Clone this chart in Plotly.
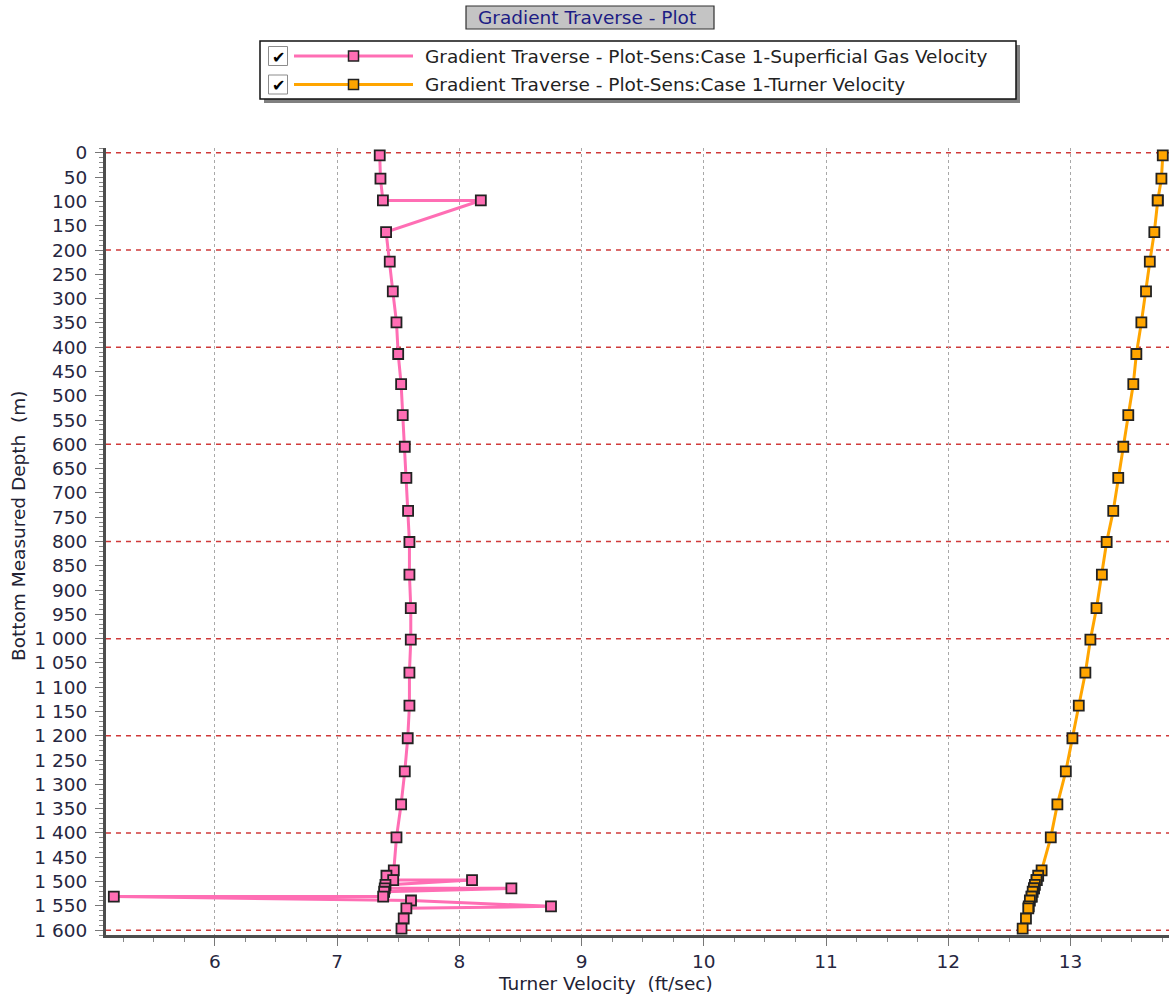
import plotly.graph_objects as go

# Measured depth of each traverse node (m)
depth_m = [5, 53, 98, 98, 163, 224, 285, 349, 414, 476,
           540, 605, 669, 737, 801, 868, 937, 1002, 1070, 1138,
           1205, 1273, 1341, 1409, 1477, 1488, 1497, 1497, 1507, 1514,
           1514, 1521, 1531, 1531, 1539, 1551, 1555, 1576, 1597]

# Superficial gas velocity (ft/sec)
gas_velocity = [7.349, 7.355, 7.375, 8.176, 7.401, 7.431, 7.456, 7.486, 7.500, 7.524,
                7.537, 7.554, 7.567, 7.581, 7.592, 7.592, 7.603, 7.603, 7.592, 7.592,
                7.578, 7.554, 7.524, 7.486, 7.464, 7.404, 7.459, 8.104, 7.396, 7.390,
                8.426, 7.385, 7.377, 5.174, 7.605, 8.750, 7.567, 7.545, 7.527]

# Turner critical velocity (ft/sec)
turner_velocity = [13.754, 13.743, 13.713, 13.713, 13.685, 13.648, 13.617, 13.579, 13.538, 13.513,
                   13.472, 13.431, 13.390, 13.349, 13.295, 13.256, 13.212, 13.162, 13.121, 13.067,
                   13.015, 12.961, 12.892, 12.838, 12.763, 12.735, 12.722, 12.722, 12.708, 12.700,
                   12.700, 12.690, 12.681, 12.681, 12.667, 12.658, 12.654, 12.635, 12.608]

series_names = [
    "Gradient Traverse - Plot-Sens:Case 1-Superficial Gas Velocity",
    "Gradient Traverse - Plot-Sens:Case 1-Turner Velocity",
]
chart_title = "Gradient Traverse - Plot"
x_title = "Turner Velocity  (ft/sec)"
y_title = "Bottom Measured Depth  (m)"

# Depth levels that carry the red dashed reference lines
depth_grid_levels = [0, 200, 400, 600, 800, 1000, 1200, 1400, 1600]

PINK = "#ff6eb4"
ORANGE = "#ffa500"
FONT = "DejaVu Sans"
FS = 18.5

W, H = 1169, 996
ML, MR, MT, MB = 106, 0, 148, 61
PW, PH = W - ML - MR, H - MT - MB


def px(x):
    """Pixel column -> paper x."""
    return (x - ML) / PW


def py(y):
    """Pixel row -> paper y."""
    return (H - MB - y) / PH


fig = go.Figure()
for vals, name, col in [(gas_velocity, series_names[0], PINK),
                        (turner_velocity, series_names[1], ORANGE)]:
    fig.add_trace(go.Scatter(
        x=vals, y=depth_m, name=name, mode="lines+markers",
        line=dict(color=col, width=3),
        marker=dict(symbol="square", size=10, color=col,
                    line=dict(color="#222222", width=1.8)),
        showlegend=False,
    ))

shapes = []
# red dashed depth reference lines
for lv in depth_grid_levels:
    shapes.append(dict(type="line", xref="paper", yref="y", x0=0, x1=1, y0=lv, y1=lv,
                       layer="below", line=dict(color="#d03a3a", width=1.5, dash="5px,5px")))

# title box
shapes.append(dict(type="rect", xref="paper", yref="paper",
                   x0=px(466), x1=px(714), y0=py(29), y1=py(6),
                   fillcolor="#c4c4c4", line=dict(color="#303030", width=1.2)))

# legend frame with drop shadow
shapes.append(dict(type="rect", xref="paper", yref="paper",
                   x0=px(264), x1=px(1020), y0=py(103), y1=py(45),
                   fillcolor="#808080", line=dict(width=0)))
shapes.append(dict(type="rect", xref="paper", yref="paper",
                   x0=px(260), x1=px(1016), y0=py(99), y1=py(41),
                   fillcolor="white", line=dict(color="#111111", width=1.5)))

annotations = [
    dict(text=chart_title, x=px(587), y=py(17.5), xref="paper", yref="paper",
         showarrow=False, xanchor="center", yanchor="middle",
         font=dict(family=FONT, size=FS, color="#1c1c84")),
    dict(text=x_title, x=px(605), y=py(983), xref="paper", yref="paper",
         showarrow=False, xanchor="center", yanchor="middle",
         font=dict(family=FONT, size=FS, color="#222233")),
    dict(text=y_title, x=px(18), y=py(525), xref="paper", yref="paper",
         showarrow=False, xanchor="center", yanchor="middle", textangle=-90,
         font=dict(family=FONT, size=FS, color="#222233")),
]

for row_y, name, col in [(56, series_names[0], PINK), (84.5, series_names[1], ORANGE)]:
    # checkbox
    shapes.append(dict(type="rect", xref="paper", yref="paper",
                       x0=px(268.5), x1=px(287.5), y0=py(row_y + 9.5), y1=py(row_y - 9.5),
                       fillcolor="white", line=dict(color="#8c8c8c", width=1)))
    annotations.append(dict(text="<b>✔</b>", x=px(278), y=py(row_y + 1), xref="paper", yref="paper",
                            showarrow=False, xanchor="center", yanchor="middle",
                            font=dict(family=FONT, size=16, color="#000000")))
    # line sample and marker
    shapes.append(dict(type="line", xref="paper", yref="paper",
                       x0=px(294), x1=px(413), y0=py(row_y), y1=py(row_y),
                       line=dict(color=col, width=3)))
    shapes.append(dict(type="rect", xref="paper", yref="paper",
                       x0=px(348.5), x1=px(358.5), y0=py(row_y + 5), y1=py(row_y - 5),
                       fillcolor=col, line=dict(color="#222222", width=1.5)))
    annotations.append(dict(text=name, x=px(423), y=py(row_y), xref="paper", yref="paper",
                            showarrow=False, xanchor="left", yanchor="middle",
                            font=dict(family=FONT, size=FS, color="#222222")))

fig.update_layout(
    width=W, height=H,
    margin=dict(l=ML, r=MR, t=MT, b=MB, autoexpand=False),
    paper_bgcolor="white", plot_bgcolor="white",
    separators=". ",
    font=dict(family=FONT, size=FS, color="#262640"),
    shapes=shapes, annotations=annotations,
    showlegend=False,
    xaxis=dict(
        range=[5.11, 13.805], tick0=0, dtick=1, automargin=False,
        showgrid=True, gridcolor="#a8a8a8", griddash="3px,3px", gridwidth=1,
        zeroline=False, showline=True, linecolor="#4d4d4d", linewidth=3,
        ticks="outside", ticklen=8, tickcolor="#777777", tickwidth=1,
        minor=dict(dtick=0.25, tick0=0, ticks="outside", ticklen=4,
                   tickcolor="#888888", showgrid=False),
        tickfont=dict(family=FONT, size=FS, color="#262640"),
        ticklabelstandoff=0,
    ),
    yaxis=dict(
        range=[1610, -10], tick0=0, dtick=50, automargin=False,
        showgrid=False, zeroline=False, showline=True,
        linecolor="#4d4d4d", linewidth=3,
        ticks="outside", ticklen=8, tickcolor="#777777", tickwidth=1,
        minor=dict(dtick=10, tick0=0, ticks="outside", ticklen=4,
                   tickcolor="#888888", showgrid=False),
        separatethousands=True,
        tickfont=dict(family=FONT, size=FS, color="#262640"),
        ticklabelstandoff=4,
    ),
)

fig.write_html("out.html")
